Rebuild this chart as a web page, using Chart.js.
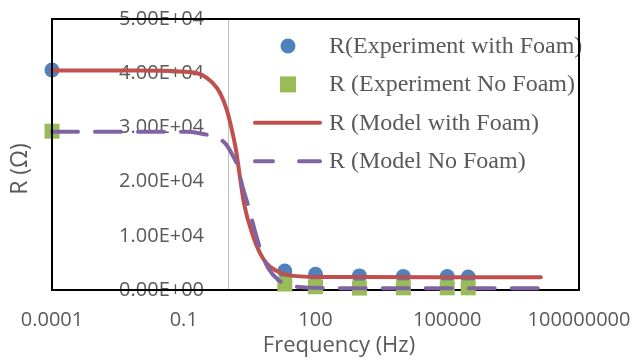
<!DOCTYPE html>
<html>
<head>
<meta charset="utf-8">
<script src="https://cdn.jsdelivr.net/npm/chart.js@4.4.1/dist/chart.umd.min.js"></script>
<style>
  html, body { margin: 0; padding: 0; background: #fff; }
  #wrap { width: 634px; height: 362px; }
</style>
</head>
<body>
<div id="wrap"><canvas id="chart" width="634" height="362"></canvas></div>
<script>
// measured points (frequency in Hz, resistance in ohm)
const expFreq = [0.0001, 20, 100, 1000, 10000, 100000, 300000];
const expFoamR = [40600, 3500, 2900, 2600, 2500, 2500, 2400];
const expNoFoamR = [29300, 1100, 600, 350, 400, 400, 400];

// model curves
const modelFoamFreq = [0.0001, 0.001, 0.01, 0.082, 0.234, 0.46, 0.67, 0.96, 1.25, 1.55, 1.81, 2.35, 3.77, 5.45, 7.73, 11.9, 23.6, 126, 1000, 13500000];
const modelFoamR = [40500, 40500, 40500, 40300, 39850, 38150, 36350, 33200, 29500, 25800, 22100, 16000, 10000, 6800, 4900, 3700, 2750, 2400, 2380, 2350];
const modelNoFoamFreq = [0.0001, 0.001, 0.01, 0.117, 0.234, 0.433, 0.87, 1.25, 1.75, 2.08, 3.22, 3.83, 5.96, 8.41, 14.2, 24, 75, 1000, 13500000];
const modelNoFoamR = [29200, 29200, 29200, 29200, 28900, 28400, 27100, 25100, 22450, 19700, 14450, 12000, 6770, 4000, 1850, 920, 420, 310, 310];

const seriesNames = ['R(Experiment with Foam)', 'R (Experiment No Foam)', 'R (Model with Foam)', 'R (Model No Foam)'];
const xTickValues = [0.0001, 0.1, 100, 100000, 100000000];
const xTickLabels = ['0.0001', '0.1', '100', '100000', '100000000'];
const xTitle = 'Frequency (Hz)';
const yTitle = 'R (\u03A9)';
const yCrossAt = 1;        // vertical axis crosses the log axis at 1 Hz
const yLabelEdgeAt = 0.29; // tick labels end a little left of it

const TEXT = '#595959';
const SANS = '"Open Sans", sans-serif';

function toPoints(xs, ys) {
    return xs.map((x, i) => ({ x: x, y: ys[i] }));
}

// 40000 -> "4.00E+04"
function sci(v) {
    const parts = Number(v).toExponential(2).split('e');
    const n = parseInt(parts[1], 10);
    return parts[0] + 'E' + (n < 0 ? '-' : '+') + String(Math.abs(n)).padStart(2, '0');
}

const decor = {
    id: 'decor',
    beforeDatasetsDraw(chart) {
        const { ctx, chartArea: a } = chart;
        const ax = Math.round(chart.scales.x.getPixelForValue(yCrossAt)) + 0.5;
        ctx.save();
        ctx.strokeStyle = '#BFBFBF';
        ctx.lineWidth = 1;
        ctx.beginPath();
        ctx.moveTo(ax, a.top);
        ctx.lineTo(ax, a.bottom);
        ctx.stroke();
        ctx.strokeStyle = '#000';
        ctx.lineWidth = 2;
        ctx.beginPath();
        ctx.moveTo(a.left - 1, a.bottom);
        ctx.lineTo(a.right + 1, a.bottom);
        ctx.stroke();
        ctx.restore();
    },
    afterDatasetsDraw(chart) {
        const { ctx, chartArea: a } = chart;
        const ds = chart.data.datasets;
        ctx.save();

        // legend inside the plot, top right
        ctx.font = '24px "Liberation Serif", serif';
        ctx.textBaseline = 'alphabetic';
        ctx.textAlign = 'left';
        ds.forEach((d, i) => {
            const base = 53 + i * 38.4;
            const my = base - 7;
            if (i === 0) {
                ctx.fillStyle = d.backgroundColor;
                ctx.beginPath();
                ctx.arc(288, my, 7.5, 0, Math.PI * 2);
                ctx.fill();
            } else if (i === 1) {
                ctx.fillStyle = d.backgroundColor;
                ctx.fillRect(280, my - 8, 16, 16);
            } else {
                ctx.strokeStyle = d.borderColor;
                ctx.lineWidth = 4;
                ctx.lineCap = 'round';
                ctx.beginPath();
                if (i === 2) {
                    ctx.moveTo(255, my); ctx.lineTo(320, my);
                } else {
                    ctx.moveTo(255, my); ctx.lineTo(273, my);
                    ctx.moveTo(299, my); ctx.lineTo(320, my);
                }
                ctx.stroke();
            }
            ctx.fillStyle = TEXT;
            ctx.fillText(d.label, 329, base);
        });

        // plot area frame
        ctx.strokeStyle = '#000';
        ctx.lineWidth = 2;
        ctx.lineCap = 'butt';
        ctx.beginPath();
        ctx.moveTo(a.left, a.bottom);
        ctx.lineTo(a.left, a.top);
        ctx.lineTo(a.right, a.top);
        ctx.lineTo(a.right, a.bottom);
        ctx.stroke();

        // axis titles
        ctx.fillStyle = TEXT;
        ctx.textAlign = 'center';
        ctx.textBaseline = 'middle';
        ctx.font = '22px ' + SANS;
        ctx.fillText(xTitle, 339, 346);
        ctx.translate(20, 169);
        ctx.rotate(-Math.PI / 2);
        ctx.font = '23px ' + SANS;
        ctx.fillText(yTitle, 0, 0);
        ctx.restore();
    }
};

const ctx = document.getElementById('chart').getContext('2d');
new Chart(ctx, {
    type: 'scatter',
    data: {
        datasets: [{
            label: seriesNames[0],
            data: toPoints(expFreq, expFoamR),
            backgroundColor: '#4F81BD',
            borderColor: '#4F81BD',
            pointStyle: 'circle',
            pointRadius: 7.5,
            pointBorderWidth: 0,
            showLine: false,
            clip: false,
            order: 4
        }, {
            label: seriesNames[1],
            data: toPoints(expFreq, expNoFoamR),
            backgroundColor: '#9BBB59',
            borderColor: '#9BBB59',
            pointStyle: 'rect',
            pointRadius: 10.6,
            pointBorderWidth: 0,
            showLine: false,
            clip: false,
            order: 3
        }, {
            label: seriesNames[2],
            data: toPoints(modelFoamFreq, modelFoamR),
            borderColor: '#C0504D',
            backgroundColor: '#C0504D',
            borderWidth: 4,
            borderCapStyle: 'round',
            pointRadius: 0,
            showLine: true,
            cubicInterpolationMode: 'monotone',
            clip: false,
            order: 2
        }, {
            label: seriesNames[3],
            data: toPoints(modelNoFoamFreq, modelNoFoamR),
            borderColor: '#8064A2',
            backgroundColor: '#8064A2',
            borderWidth: 4,
            borderDash: [26, 17],
            borderCapStyle: 'round',
            pointRadius: 0,
            showLine: true,
            cubicInterpolationMode: 'monotone',
            clip: false,
            order: 1
        }]
    },
    options: {
        responsive: false,
        animation: false,
        devicePixelRatio: 1,
        layout: { padding: { left: 52, top: 19, right: 55, bottom: 0 } },
        plugins: {
            legend: { display: false },
            tooltip: { enabled: false }
        },
        scales: {
            x: {
                type: 'logarithmic',
                position: 'bottom',
                min: 0.0001,
                max: 100000000,
                afterBuildTicks: s => { s.ticks = xTickValues.map(v => ({ value: v })); },
                afterFit: s => { s.height = 72; },
                grid: { display: false, drawTicks: true, tickLength: 18 },
                border: { display: false },
                ticks: {
                    autoSkip: false,
                    maxRotation: 0,
                    padding: 0,
                    color: TEXT,
                    font: { family: SANS, size: 20 },
                    callback: (v, i) => xTickLabels[i]
                },
                title: { display: false }
            },
            y: {
                type: 'linear',
                position: { x: yLabelEdgeAt },
                z: 1, // labels over the curves, as in the original
                min: 0,
                max: 50000,
                afterFit: s => { s.paddingTop = 0; s.paddingBottom = 0; },
                grid: { display: false, drawTicks: false },
                border: { display: false },
                ticks: {
                    stepSize: 10000,
                    padding: 0,
                    color: TEXT,
                    font: { family: SANS, size: 20 },
                    callback: v => sci(v)
                },
                title: { display: false }
            }
        }
    },
    plugins: [decor]
});
</script>
</body>
</html>
